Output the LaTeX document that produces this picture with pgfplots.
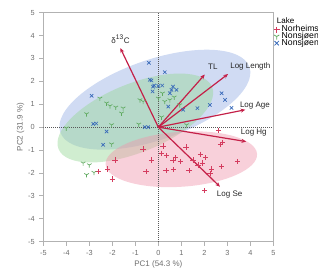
\documentclass[border=0pt]{standalone}
\usepackage{fontspec}
\setmainfont{Liberation Sans}
\usepackage{pgfplots}
\pgfplotsset{compat=1.18}
\usetikzlibrary{arrows.meta,plotmarks}
\definecolor{arrowred}{RGB}{196,32,72}
\definecolor{nor}{RGB}{212,60,95}
\definecolor{nsg}{RGB}{95,170,95}
\definecolor{nsb}{RGB}{55,105,185}
\definecolor{elb}{RGB}{150,175,228}
\definecolor{elg}{RGB}{150,215,150}
\definecolor{elp}{RGB}{240,150,172}
\definecolor{tickgray}{RGB}{110,110,110}
\begin{document}
\begin{tikzpicture}
\begin{axis}[
  name=ax,
  scale only axis, width=172.5pt, height=171.75pt,
  xmin=-5, xmax=5, ymin=-5, ymax=5,
  xtick={-5,...,5}, ytick={-5,...,5},
  tick align=outside, tick pos=left,
  major tick length=3pt,
  axis line style={draw=gray!60, line width=0.7pt},
  tick style={draw=gray!60, line width=0.6pt},
  ticklabel style={font=\fontsize{5.5}{6}\selectfont, text=tickgray},
  /pgf/number format/assume math mode=true,
  xlabel={PC1 (54.3 \%)}, ylabel={PC2 (31.9 \%)},
  label style={font=\fontsize{6}{7}\selectfont, text=tickgray},
  xlabel style={yshift=3pt},
  ylabel style={yshift=-4pt},
  legend style={at={(1.0,0.953)}, anchor=north west, draw=none, fill=none,
    font=\fontsize{6.5}{7}\selectfont, inner sep=0pt, row sep=-4.2pt,
    legend cell align=left, nodes={inner sep=1.5pt}},
  legend image code/.code={\draw[mark repeat=2,mark phase=2] plot coordinates {(0cm,0cm) (0.15cm,0cm) (0.3cm,0cm)};},
  legend image post style={mark size=2.3pt, line width=0.6pt},
]
% ellipses
\fill[elb, fill opacity=0.45, rotate around={19:(axis cs:-0.15,1.2)}] (axis cs:-0.15,1.2) ellipse [x radius=4.35, y radius=1.75];
\fill[elg, fill opacity=0.45, rotate around={22:(axis cs:-1.0,0.4)}] (axis cs:-1.0,0.4) ellipse [x radius=3.6, y radius=1.5];
\fill[elp, fill opacity=0.45, rotate around={4:(axis cs:1.0,-1.4)}] (axis cs:1.0,-1.4) ellipse [x radius=3.3, y radius=1.2];
% zero lines
\addplot[forget plot, densely dotted, gray!70!black, line width=0.5pt] coordinates {(-5,0) (5,0)};
\addplot[forget plot, densely dotted, gray!70!black, line width=0.5pt] coordinates {(0,-5) (0,5)};
% points
\addplot[only marks, mark=+, mark size=2pt, nor, line width=0.5pt] coordinates {
(2.63,-0.15) (2.79,-0.67) (2.7,-0.77) (1.2,-0.87) (0.21,-0.82) (-0.3,-1.43)
(0.14,-1.14) (0.36,-1.24) (0.64,-1.43) (0.76,-1.33) (0.96,-1.5) (1.51,-1.43)
(1.83,-1.18) (2.05,-1.33) (1.92,-1.57) (2.31,-1.83) (2.75,-1.72) (3.44,-1.5)
(0.33,-1.9) (0.67,-1.86) (1.34,-1.9) (2.24,-2.01) (2.02,-2.78) (1.73,-1.65)
(-0.66,-0.96) (-0.54,-1.94) (-1.89,-1.43) (-2.2,-1.82) (-2.0,-2.27) (-2.62,-1.94)
};
\addlegendentry{Norheimsund}
\addplot[only marks, mark=Mercedes star flipped, mark size=2pt, nsg, line width=0.5pt] coordinates {
(-2.54,1.26) (-2.25,1.05) (-2.1,0.93) (-1.85,0.87) (-1.53,0.83) (-1.6,0.61)
(-3.12,0.58) (-2.03,0.1) (-0.85,0.13) (-0.8,1.19) (-4.0,-0.04) (-2.03,-0.74)
(-3.27,-1.57) (-3.0,-1.65) (-3.12,-2.08) (-2.8,-1.98) (-0.66,1.12) (0,1.26)
(0.18,1.48) (0.28,1.12) (0.5,1.19) (0.69,1.31) (0.93,0.97) (0.14,0.44) (1.23,0.1)
};
\addlegendentry{Nonsjøen}
\addplot[only marks, mark=x, mark size=1.8pt, nsb, line width=0.5pt] coordinates {
(-0.41,2.81) (-0.37,2.07) (-0.23,1.77) (-0.18,1.82) (0,1.8) (0.17,1.82)
(-0.3,2.04) (-0.25,1.56) (0.28,2.4) (0.57,1.63) (0.64,1.77) (0.5,1.48)
(0.79,1.63) (0.43,0.9) (1.08,0.76) (1.7,0.83) (2.24,0.97) (2.75,1.48)
(2.9,1.19) (3.18,0.84) (-0.44,0.0) (-0.59,0.0) (-2.9,1.37) (-2.83,0.14)
(-2.7,0.16) (-2.4,-0.77) (-2.25,-0.19)
};
\addlegendentry{Nonsjøen}
% loadings
\addplot[forget plot, arrowred, line width=0.9pt, -{Stealth[length=3.5pt,width=3pt]}] coordinates {(0,0) (-1.65,3.45)};
\addplot[forget plot, arrowred, line width=0.9pt, -{Stealth[length=3.5pt,width=3pt]}] coordinates {(0,0) (2.02,2.3)};
\addplot[forget plot, arrowred, line width=0.9pt, -{Stealth[length=3.5pt,width=3pt]}] coordinates {(0,0) (3.03,2.32)};
\addplot[forget plot, arrowred, line width=0.9pt, -{Stealth[length=3.5pt,width=3pt]}] coordinates {(0,0) (3.78,0.76)};
\addplot[forget plot, arrowred, line width=0.9pt, -{Stealth[length=3.5pt,width=3pt]}] coordinates {(0,0) (3.82,-0.63)};
\addplot[forget plot, arrowred, line width=0.9pt, -{Stealth[length=3.5pt,width=3pt]}] coordinates {(0,0) (2.68,-2.6)};
\node[font=\fontsize{6}{7}\selectfont, text=black!85] at (axis cs:-1.64,3.84) {δ\textsuperscript{13}C};
\node[font=\fontsize{6}{7}\selectfont, text=black!85] at (axis cs:2.37,2.65) {TL};
\node[font=\fontsize{6}{7}\selectfont, text=black!85] at (axis cs:4.0,2.65) {Log Length};
\node[font=\fontsize{6}{7}\selectfont, text=black!85] at (axis cs:4.2,0.93) {Log Age};
\node[font=\fontsize{6}{7}\selectfont, text=black!85] at (axis cs:4.15,-0.25) {Log Hg};
\node[font=\fontsize{6}{7}\selectfont, text=black!85] at (axis cs:3.1,-2.96) {Log Se};
\end{axis}
\node[anchor=west, font=\fontsize{6}{7}\selectfont, inner sep=0pt] at ([shift={(2.5pt,-6.2pt)}]ax.north east) {Lake};
\draw[gray!60, line width=0.5pt] (ax.north west) -- (ax.north east) -- (ax.south east);
\pgfresetboundingbox
\path ([shift={(-32.5pt,-20.5pt)}]ax.south west) rectangle ([shift={(33.5pt,9.5pt)}]ax.north east);
\end{tikzpicture}
\end{document}
